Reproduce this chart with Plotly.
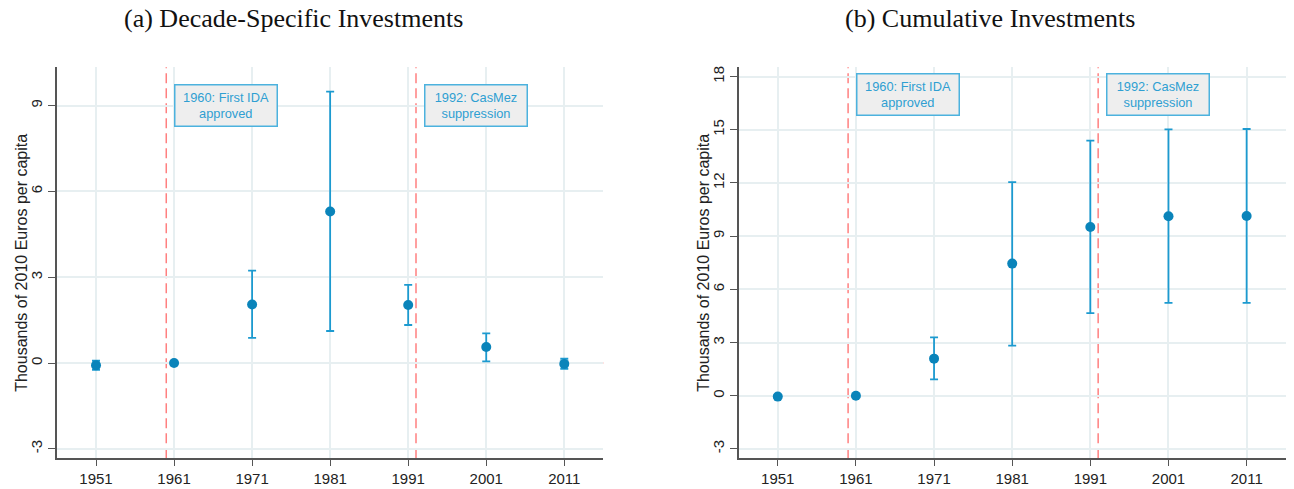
import plotly.graph_objects as go

# ---------------- data ----------------
years = [1951, 1961, 1971, 1981, 1991, 2001, 2011]

# (a) Decade-specific investments
a_est = [-0.08, 0.0, 2.05, 5.30, 2.03, 0.56, -0.03]
a_lo = [-0.24, None, 0.88, 1.12, 1.33, 0.06, -0.20]
a_hi = [0.08, None, 3.23, 9.49, 2.73, 1.04, 0.15]

# (b) Cumulative investments
b_est = [-0.05, 0.0, 2.09, 7.45, 9.51, 10.12, 10.13]
b_lo = [-0.12, None, 0.92, 2.82, 4.66, 5.23, 5.23]
b_hi = [0.02, None, 3.29, 12.05, 14.38, 15.02, 15.04]

a_yticks = [-3, 0, 3, 6, 9]
b_yticks = [-3, 0, 3, 6, 9, 12, 15, 18]
xticks = years
event_years = [1960, 1992]
event_labels = ["1960: First IDA<br>approved", "1992: CasMez<br>suppression"]
event_label_x = [1961, 1993]

titles = ["(a) Decade-Specific Investments", "(b) Cumulative Investments"]
ytitle = "Thousands of 2010 Euros per capita"

MARKER = "#0a84ba"
ERR = "#1c9ad0"
RED = "#ff8080"
GRID = "#e7eff1"
AXIS = "#555555"
BOXTXT = "#2f9fd2"

W, H = 1294, 489

fig = go.Figure()


def errs(est, lo, hi):
    plus = [None if h is None else h - e for e, h in zip(est, hi)]
    minus = [None if l is None else e - l for e, l in zip(est, lo)]
    return plus, minus


panels = [
    dict(est=a_est, lo=a_lo, hi=a_hi, xa="x", ya="y", yr=[-3.33, 10.34], ticks=a_yticks,
         dom=[57 / W, 603.3 / W], label_y=9.0, title_x=293 / W, ytitle_x=22 / W),
    dict(est=b_est, lo=b_lo, hi=b_hi, xa="x2", ya="y2", yr=[-3.53, 18.52], ticks=b_yticks,
         dom=[738.7 / W, 1285.7 / W], label_y=17.0, title_x=990 / W, ytitle_x=704 / W),
]

ydom = [(H - 458.3) / H, (H - 67.3) / H]
layout_axes = {}
annotations = []
shapes = []
TICKFONT = dict(family="Liberation Sans, Arial", size=15, color="#222222")

for i, p in enumerate(panels):
    plus, minus = errs(p["est"], p["lo"], p["hi"])
    fig.add_trace(go.Scatter(
        x=years, y=p["est"], mode="markers", xaxis=p["xa"], yaxis=p["ya"],
        marker=dict(color=MARKER, size=10),
        error_y=dict(type="data", symmetric=False, array=plus, arrayminus=minus,
                     color=ERR, thickness=1.8, width=4),
        showlegend=False, cliponaxis=False,
    ))
    suffix = "" if i == 0 else "2"
    layout_axes["xaxis" + suffix] = dict(
        domain=p["dom"], anchor="y" + suffix, range=[1946, 2016],
        tickmode="array", tickvals=xticks, ticktext=[str(t) for t in xticks],
        ticks="outside", ticklen=6, tickcolor=AXIS, tickwidth=1,
        showline=True, linecolor=AXIS, linewidth=1.5,
        showgrid=True, gridcolor=GRID, gridwidth=1.5, zeroline=False,
        tickfont=TICKFONT,
    )
    layout_axes["yaxis" + suffix] = dict(
        domain=ydom, anchor="x" + suffix, range=p["yr"],
        tickmode="array", tickvals=p["ticks"], ticktext=[str(t) for t in p["ticks"]],
        tickangle=-90,
        ticks="outside", ticklen=7, tickcolor=AXIS, tickwidth=1,
        showline=True, linecolor=AXIS, linewidth=1.5,
        showgrid=True, gridcolor=GRID, gridwidth=1.5, zeroline=False,
        tickfont=TICKFONT,
    )
    xa_ref = "x" + suffix
    ya_ref = "y" + suffix
    # horizontal zero line
    shapes.append(dict(type="line", xref=xa_ref + " domain", yref=ya_ref, x0=0, x1=1, y0=0, y1=0,
                       line=dict(color=RED, width=1.5, dash="10px,5px"), layer="below"))
    for ey, lab, lx in zip(event_years, event_labels, event_label_x):
        shapes.append(dict(type="line", xref=xa_ref, yref=ya_ref + " domain", x0=ey, x1=ey, y0=0, y1=1,
                           line=dict(color=RED, width=1.5, dash="10px,5px"), layer="below"))
        annotations.append(dict(
            x=lx, y=p["label_y"], xref=xa_ref, yref=ya_ref, xanchor="left", yanchor="middle",
            text=lab, showarrow=False, align="center",
            font=dict(family="Liberation Sans, Arial", size=12.8, color=BOXTXT),
            bgcolor="#eeeeee", bordercolor="#4cb2de", borderwidth=1.5, borderpad=0,
            width=101, height=40,
        ))
    annotations.append(dict(
        x=p["title_x"], y=(H - 19) / H, xref="paper", yref="paper", xanchor="center", yanchor="middle",
        text=titles[i], showarrow=False,
        font=dict(family="Liberation Serif, Times New Roman, serif", size=26, color="#111111"),
    ))
    annotations.append(dict(
        x=p["ytitle_x"], y=(ydom[0] + ydom[1]) / 2, xref="paper", yref="paper",
        xanchor="center", yanchor="middle", textangle=-90,
        text=ytitle, showarrow=False,
        font=dict(family="Liberation Sans, Arial", size=16, color="#222222"),
    ))

fig.update_layout(
    width=W, height=H, margin=dict(l=0, r=0, t=0, b=0),
    paper_bgcolor="white", plot_bgcolor="white",
    annotations=annotations, shapes=shapes,
    **layout_axes,
)

fig.write_html("out.html")
